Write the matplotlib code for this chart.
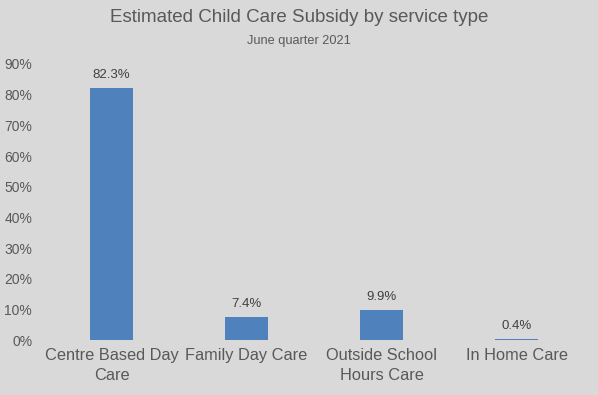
import matplotlib.pyplot as plt
from matplotlib.ticker import PercentFormatter

plt.rcParams['font.family'] = ['Liberation Sans', 'DejaVu Sans']

# data
services = ["Centre Based Day\nCare", "Family Day Care", "Outside School\nHours Care", "In Home Care"]
share = [82.3, 7.4, 9.9, 0.4]
bar_labels = ["82.3%", "7.4%", "9.9%", "0.4%"]

grey_bg = "#d9d9d9"
text_col = "#595959"
bar_col = "#4f81bd"

fig = plt.figure(figsize=(5.98, 3.95), dpi=100, facecolor=grey_bg)
ax = fig.add_axes([0.0736, 0.139, 0.903, 0.699])
ax.set_facecolor(grey_bg)

x = range(len(services))
bars = ax.bar(x, share, width=0.32, color=bar_col)

# value labels above bars
for b, lab in zip(bars, bar_labels):
    ax.annotate(lab, (b.get_x() + b.get_width() / 2, b.get_height()),
                xytext=(0, 5), textcoords="offset points",
                ha="center", va="bottom", fontsize=9.5, color="#404040")

ax.set_xlim(-0.5, len(services) - 0.5)
ax.set_ylim(0, 90)
ax.set_yticks(range(0, 91, 10))
ax.yaxis.set_major_formatter(PercentFormatter(decimals=0))
ax.set_xticks(list(x))
ax.set_xticklabels(services, fontsize=11.8, color=text_col, linespacing=1.4)
ax.tick_params(axis="y", labelsize=10, colors=text_col, length=0, pad=8.5)
ax.tick_params(axis="x", length=0, pad=6)

for s in ax.spines.values():
    s.set_visible(False)

fig.text(0.5, 0.955, "Estimated Child Care Subsidy by service type",
         ha="center", va="center", fontsize=13.5, color=text_col)
fig.text(0.5, 0.896, "June quarter 2021",
         ha="center", va="center", fontsize=9.2, color=text_col)

fig.savefig("out.png", dpi=100, facecolor=grey_bg)
